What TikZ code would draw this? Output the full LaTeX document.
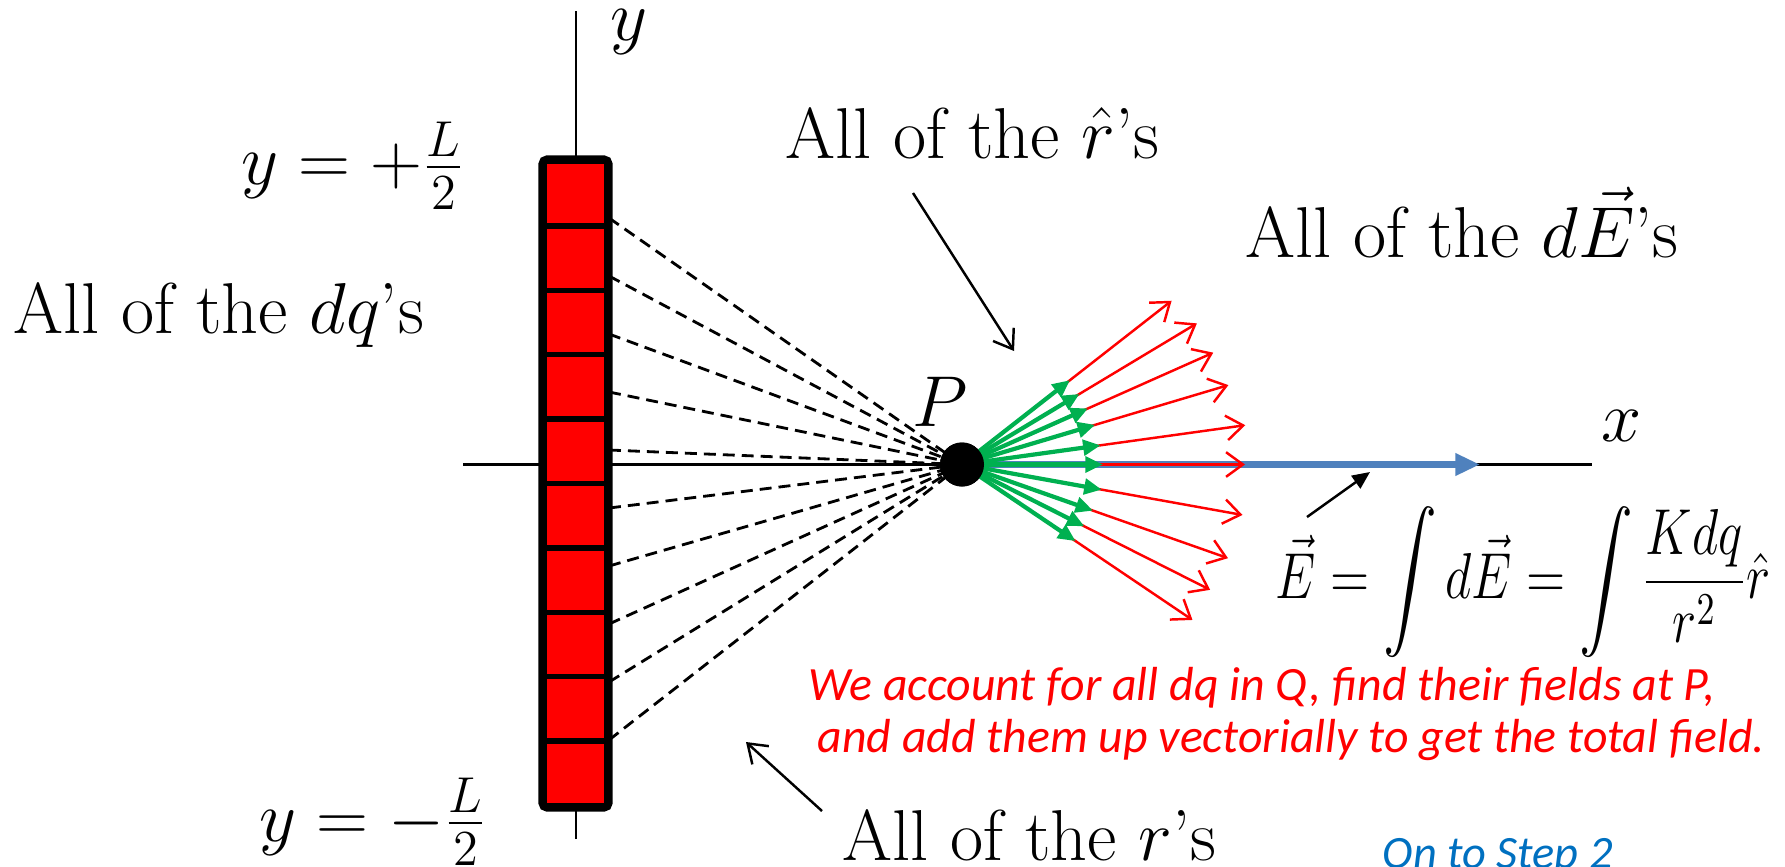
\RequirePackage{fix-cm}
\documentclass[tikz,border=0pt]{standalone}
\usepackage{exscale}
\usepackage{graphicx}
\usepackage{fontspec}
\newfontfamily\notefont{Carlito}
\usetikzlibrary{positioning, arrows.meta, fit}
\definecolor{chargecol}{RGB}{255, 0, 0}
\definecolor{rhatcol}{RGB}{0, 176, 80}
\definecolor{netcol}{RGB}{79, 129, 189}
\definecolor{stepcol}{RGB}{0, 112, 192}

\begin{document}
\begin{tikzpicture}[
    cell/.style={rectangle, draw=black, fill=chargecol, line width=1.5pt, minimum width=0.62cm, minimum height=0.644cm, inner sep=0pt},
    pdot/.style={circle, fill=black, minimum size=0.44cm, inner sep=0pt},
    lbl/.style={inner sep=0pt, font=\fontsize{20.5}{24}\selectfont},
    note/.style={inner sep=0pt, text=chargecol, font=\notefont\itshape\fontsize{13.6}{15}\selectfont},
    axis/.style={-, black, line width=0.7pt},
    rline/.style={-, black, line width=0.8pt, dash pattern=on 3.4pt off 2pt},
    efield/.style={-{Straight Barb[length=4.8pt, width=7pt]}, chargecol, line width=0.7pt},
    rhat/.style={-{Triangle[length=5pt, width=4.4pt]}, rhatcol, line width=1.2pt},
    etot/.style={-{Triangle[length=7pt, width=6pt]}, netcol, line width=2pt},
    ptr/.style={-{Straight Barb[length=5pt, width=7pt]}, black, line width=0.7pt},
    ptrfill/.style={-{Triangle[length=5pt, width=4.4pt]}, black, line width=0.7pt}]

    \useasboundingbox (0,0) rectangle (17.85,-8.66);

    % axes
    \coordinate (ytop) at (5.76,-0.11);
    \coordinate (ybot) at (5.76,-8.39);
    \coordinate (xleft) at (4.63,-4.645);
    \coordinate (xright) at (15.92,-4.645);
    \draw[axis] (ybot) -- (ytop);
    \draw[axis] (xleft) -- (xright);
    \node[lbl] (ylab) at (6.29,-0.32) {$y$};
    \node[lbl] (xlab) at (16.22,-4.26) {$x$};

    \node[pdot] (P) at (9.62,-4.645) {};
    \node[lbl] (plab) at (9.40,-4.02) {$P$};

    % the r's
    \coordinate (d1) at (6.09,-2.18);
    \coordinate (d2) at (6.09,-2.76);
    \coordinate (d3) at (6.09,-3.34);
    \coordinate (d4) at (6.09,-3.92);
    \coordinate (d5) at (6.09,-4.50);
    \coordinate (d6) at (6.09,-5.08);
    \coordinate (d7) at (6.09,-5.66);
    \coordinate (d8) at (6.09,-6.24);
    \coordinate (d9) at (6.09,-6.82);
    \coordinate (d10) at (6.09,-7.40);
    \draw[rline] (d1) -- (P.center);
    \draw[rline] (d2) -- (P.center);
    \draw[rline] (d3) -- (P.center);
    \draw[rline] (d4) -- (P.center);
    \draw[rline] (d5) -- (P.center);
    \draw[rline] (d6) -- (P.center);
    \draw[rline] (d7) -- (P.center);
    \draw[rline] (d8) -- (P.center);
    \draw[rline] (d9) -- (P.center);
    \draw[rline] (d10) -- (P.center);

    % the dq's
    \node[cell] (c1) at (5.755,-1.937) {};
    \node[cell] (c2) at (5.755,-2.581) {};
    \node[cell] (c3) at (5.755,-3.225) {};
    \node[cell] (c4) at (5.755,-3.869) {};
    \node[cell] (c5) at (5.755,-4.513) {};
    \node[cell] (c6) at (5.755,-5.157) {};
    \node[cell] (c7) at (5.755,-5.801) {};
    \node[cell] (c8) at (5.755,-6.445) {};
    \node[cell] (c9) at (5.755,-7.089) {};
    \node[cell] (c10) at (5.755,-7.733) {};
    \node[fit=(c1)(c10), inner sep=0pt, draw=black, line width=2pt, rounded corners=1.5pt] (bar) {};

    % net field
    \coordinate (Enet) at (14.80,-4.645);
    \draw[etot] (P.center) -- (Enet);

    % the dE's
    \coordinate (e1) at ([shift={(38:2.66)}]P.center);
    \coordinate (e2) at ([shift={(31:2.74)}]P.center);
    \coordinate (e3) at ([shift={(24:2.75)}]P.center);
    \coordinate (e4) at ([shift={(16.6:2.78)}]P.center);
    \coordinate (e5) at ([shift={(7.9:2.86)}]P.center);
    \coordinate (e6) at ([shift={(0:2.83)}]P.center);
    \coordinate (e7) at ([shift={(-10.2:2.85)}]P.center);
    \coordinate (e8) at ([shift={(-19.4:2.82)}]P.center);
    \coordinate (e9) at ([shift={(-26.8:2.78)}]P.center);
    \coordinate (e10) at ([shift={(-34:2.78)}]P.center);
    \draw[efield] (P.center) -- (e1);
    \draw[efield] (P.center) -- (e2);
    \draw[efield] (P.center) -- (e3);
    \draw[efield] (P.center) -- (e4);
    \draw[efield] (P.center) -- (e5);
    \draw[efield] (P.center) -- (e6);
    \draw[efield] (P.center) -- (e7);
    \draw[efield] (P.center) -- (e8);
    \draw[efield] (P.center) -- (e9);
    \draw[efield] (P.center) -- (e10);

    % the r-hats
    \coordinate (u1) at ([shift={(38:1.37)}]P.center);
    \coordinate (u2) at ([shift={(31:1.37)}]P.center);
    \coordinate (u3) at ([shift={(24:1.38)}]P.center);
    \coordinate (u4) at ([shift={(16.6:1.39)}]P.center);
    \coordinate (u5) at ([shift={(7.9:1.40)}]P.center);
    \coordinate (u6) at ([shift={(0:1.41)}]P.center);
    \coordinate (u7) at ([shift={(-10.2:1.42)}]P.center);
    \coordinate (u8) at ([shift={(-19.4:1.39)}]P.center);
    \coordinate (u9) at ([shift={(-26.8:1.37)}]P.center);
    \coordinate (u10) at ([shift={(-34:1.37)}]P.center);
    \draw[rhat] (P.center) -- (u1);
    \draw[rhat] (P.center) -- (u2);
    \draw[rhat] (P.center) -- (u3);
    \draw[rhat] (P.center) -- (u4);
    \draw[rhat] (P.center) -- (u5);
    \draw[rhat] (P.center) -- (u6);
    \draw[rhat] (P.center) -- (u7);
    \draw[rhat] (P.center) -- (u8);
    \draw[rhat] (P.center) -- (u9);
    \draw[rhat] (P.center) -- (u10);
    \node[pdot] at (P) {};

    % labels
    \node[lbl] (Ltop) at (3.53,-1.66) {$y=+\frac{L}{2}$};
    \node[lbl] (Lbot) at (3.73,-8.22) {$y=-\frac{L}{2}$};
    \node[lbl, anchor=base west] (dqlab) at (0.13,-3.33) {All of the $dq$'s};
    \node[lbl, anchor=base west] (rhatlab) at (7.85,-1.58) {All of the $\hat{r}$'s};
    \node[lbl, anchor=base west] (dElab) at (12.45,-2.57) {All of the $d\vec{E}$'s};
    \node[lbl, anchor=base west] (rlab) at (8.42,-8.60) {All of the $r$'s};
    \node[inner sep=0pt, font=\fontsize{16.5}{20}\selectfont] (eqn) at (15.23,-5.82)
        {\scalebox{0.886}[1.12]{$\displaystyle \vec{E}=\int d\vec{E}=\int\frac{Kdq}{r^2}\hat{r}$}};

    \coordinate (rhatfrom) at (9.13,-1.93);
    \coordinate (rhatto) at (10.14,-3.51);
    \draw[ptr] (rhatfrom) -- (rhatto);
    \coordinate (rfrom) at (8.22,-8.11);
    \coordinate (rto) at (7.46,-7.42);
    \draw[ptr] (rfrom) -- (rto);
    \coordinate (eqfrom) at (13.07,-5.17);
    \coordinate (eqto) at (13.70,-4.72);
    \draw[ptrfill] (eqfrom) -- (eqto);

    \node[note, anchor=base west] (note1) at (8.08,-7.00) {We account for all dq in Q, find their fields at P,};
    \node[note, anchor=base west] (note2) at (8.17,-7.52) {and add them up vectorially to get the total field.};
    \node[note, anchor=base west, text=stepcol, font=\notefont\itshape\fontsize{13.2}{15}\selectfont] (step2) at (13.82,-8.68) {On to Step 2};
\end{tikzpicture}
\end{document}
